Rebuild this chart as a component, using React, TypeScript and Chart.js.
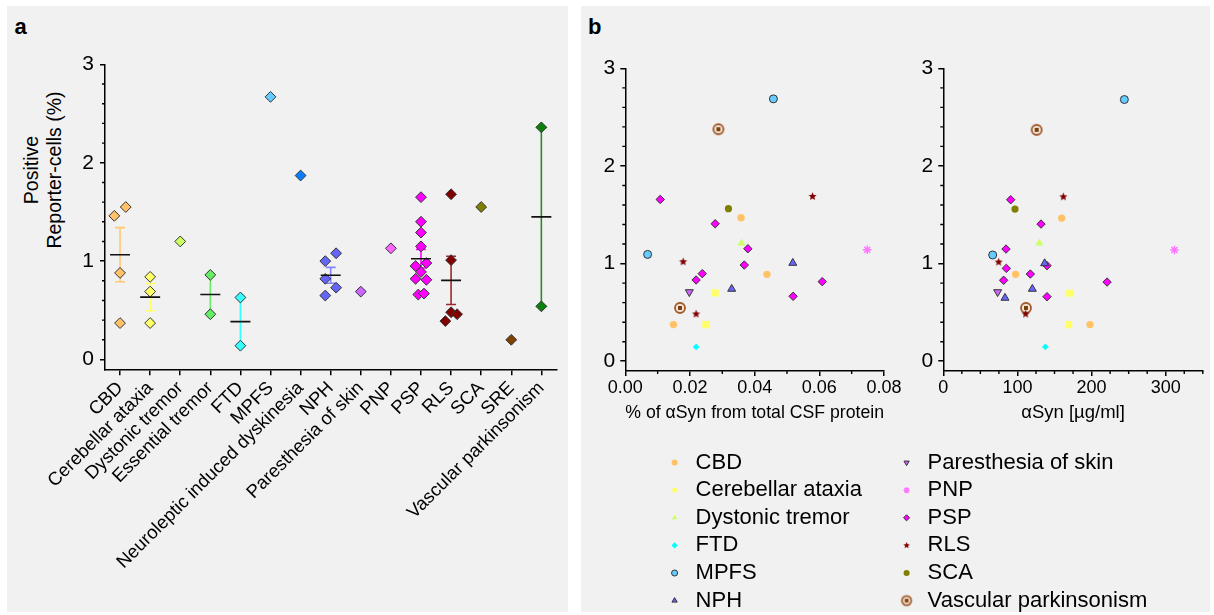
import React, { useEffect, useRef } from 'react';
import { Chart, registerables } from 'chart.js';

Chart.register(...registerables);

const FONT = '"Liberation Sans", Arial, Helvetica, sans-serif';
Chart.defaults.font.family = FONT;
Chart.defaults.color = '#000';

// ---------------- Panel a data ----------------
const categories = [
  'CBD', 'Cerebellar ataxia', 'Dystonic tremor', 'Essential tremor', 'FTD', 'MPFS',
  'Neuroleptic induced dyskinesia', 'NPH', 'Paresthesia of skin', 'PNP', 'PSP', 'RLS',
  'SCA', 'SRE', 'Vascular parkinsonism',
];
// positive reporter-cells (%) per patient, one list per diagnosis
const reporterCells = [
  [1.46, 1.55, 0.88, 0.37],
  [0.84, 0.69, 0.37],
  [1.20],
  [0.86, 0.46],
  [0.63, 0.14],
  [2.67],
  [1.87],
  [1.00, 1.08, 0.82, 0.73, 0.65],
  [0.69],
  [1.13],
  [1.65, 1.40, 1.29, 1.15, 0.95, 0.98, 0.89, 0.82, 0.81, 0.66, 0.67],
  [1.68, 1.01, 0.48, 0.46, 0.39],
  [1.55],
  [0.20],
  [2.36, 0.54],
];
// horizontal jitter (in category units) to separate overlapping points
const jitterOffsets = [
  [-0.19, 0.19, 0, 0],
  [0, 0, 0],
  [0],
  [0, 0],
  [0, 0],
  [0],
  [0],
  [-0.18, 0.18, -0.18, 0.18, -0.18],
  [0],
  [0],
  [0, 0, 0, 0, -0.18, 0.18, 0, -0.18, 0.18, -0.09, 0.1],
  [0, 0, 0, 0.2, -0.19],
  [0],
  [0],
  [0, 0],
];
const yTicks = [0, 1, 2, 3];

// ---------------- Panel b data ----------------
const groupNames = [
  'CBD', 'Cerebellar ataxia', 'Dystonic tremor', 'FTD', 'MPFS', 'NPH',
  'Paresthesia of skin', 'PNP', 'PSP', 'RLS', 'SCA', 'Vascular parkinsonism',
];
// [% of aSyn from total CSF protein, positive reporter-cells %]
const pctCBD = [[0.0358, 1.47], [0.0438, 0.89], [0.0149, 0.375]];
const pctCerebellar = [[0.0278, 0.70], [0.0249, 0.375]];
const pctDystonic = [[0.0359, 1.21]];
const pctFTD = [[0.0219, 0.147]];
const pctMPFS = [[0.0458, 2.687], [0.0069, 1.094]];
const pctNPH = [[0.0518, 1.006], [0.0329, 0.74]];
const pctParesthesia = [[0.0198, 0.709]];
const pctPNP = [[0.0748, 1.142]];
const pctPSP = [[0.0108, 1.657], [0.0278, 1.408], [0.0379, 1.152], [0.0368, 0.985], [0.0238, 0.897], [0.0219, 0.832], [0.0519, 0.665], [0.0609, 0.815]];
const pctRLS = [[0.0579, 1.688], [0.0179, 1.019], [0.0219, 0.484]];
const pctSCA = [[0.0319, 1.562]];
const pctVascular = [[0.0288, 2.376], [0.0169, 0.546]];

// [aSyn µg/ml, positive reporter-cells %]
const concCBD = [[159.7, 1.466], [97.6, 0.89], [197.9, 0.375]];
const concCerebellar = [[170.5, 0.696], [169.1, 0.375]];
const concDystonic = [[129.5, 1.21]];
const concFTD = [[137.6, 0.147]];
const concMPFS = [[244.2, 2.68], [66.6, 1.088]];
const concNPH = [[136.7, 1.002], [120.1, 0.74], [83.2, 0.648]];
const concParesthesia = [[73.3, 0.709]];
const concPNP = [[311.7, 1.139]];
const concPSP = [[90.9, 1.654], [131.8, 1.405], [84.6, 1.149], [85.0, 0.951], [81.4, 0.829], [117.4, 0.893], [139.9, 0.979], [139.9, 0.661], [220.9, 0.811]];
const concRLS = [[161.9, 1.684], [74.7, 1.016], [111.1, 0.484]];
const concSCA = [[96.7, 1.558]];
const concVascular = [[125.9, 2.37], [111.5, 0.546]];

const pctSeries = [pctCBD, pctCerebellar, pctDystonic, pctFTD, pctMPFS, pctNPH, pctParesthesia, pctPNP, pctPSP, pctRLS, pctSCA, pctVascular];
const concSeries = [concCBD, concCerebellar, concDystonic, concFTD, concMPFS, concNPH, concParesthesia, concPNP, concPSP, concRLS, concSCA, concVascular];

const pctTicks = [0, 0.02, 0.04, 0.06, 0.08];
const concTicks = [0, 100, 200, 300];

// ---------------- Styles ----------------
const catColors = ['#FFC266', '#FFFF66', '#CCFF66', '#66EE66', '#33FFFF', '#66CCFF', '#0A7CFF', '#6464F5', '#CC66FF', '#FF66FF', '#FF00FF', '#800000', '#808000', '#804000', '#0B800B'];
const errColors = ['#FFC870', '#FFFF66', '#CCFF66', '#66EE66', '#33FFFF', '#66CCFF', '#0A7CFF', '#8585FF', '#CC66FF', '#FF66FF', '#FF00FF', '#A02828', '#808000', '#804000', '#2A8A2A'];

const groupStyles: any[] = [
  { style: 'circle', r: 3.7, fill: '#FFC266', stroke: '#FFC266', bw: 0 },
  { style: 'rect', r: 5, fill: '#FFFF66', stroke: '#FFFF66', bw: 0 },
  { style: 'triangle', r: 4.6, fill: '#CCFF66', stroke: '#CCFF66', bw: 0 },
  { style: 'rectRot', r: 3.3, fill: '#00FFFF', stroke: '#00FFFF', bw: 0 },
  { style: 'circle', r: 4, fill: '#66CCFF', stroke: '#333333', bw: 1 },
  { style: 'triangle', r: 4.6, fill: '#6666FF', stroke: '#333333', bw: 1 },
  { style: 'triangle', r: 4.6, fill: '#CC66FF', stroke: '#333333', bw: 1, rot: 180 },
  { style: 'star', r: 4.3, fill: '#FF77FF', stroke: '#FF77FF', bw: 1.5 },
  { style: 'rectRot', r: 4.2, fill: '#FF00FF', stroke: '#333333', bw: 1 },
  { style: 'star5', r: 4, fill: '#800000', stroke: '#800000', bw: 0 },
  { style: 'circle', r: 3.6, fill: '#808000', stroke: '#808000', bw: 0 },
  { style: 'ring', r: 4.5, fill: '#A0582A', stroke: '#A0582A', bw: 0 },
];

function starCanvas(outer: number, color: string) {
  const s = Math.ceil(outer * 2 + 2);
  const c = document.createElement('canvas');
  c.width = s; c.height = s;
  const g = c.getContext('2d')!;
  g.fillStyle = color;
  g.beginPath();
  for (let k = 0; k < 10; k++) {
    const rr = k % 2 === 0 ? outer : outer * 0.45;
    const a = -Math.PI / 2 + (k * Math.PI) / 5;
    const px = s / 2 + rr * Math.cos(a);
    const py = s / 2 + rr * Math.sin(a);
    if (k === 0) g.moveTo(px, py); else g.lineTo(px, py);
  }
  g.closePath();
  g.fill();
  return c;
}

function ringCanvas(r: number) {
  const s = Math.ceil(r * 2 + 4);
  const c = document.createElement('canvas');
  c.width = s; c.height = s;
  const g = c.getContext('2d')!;
  g.beginPath();
  g.arc(s / 2, s / 2, r, 0, Math.PI * 2);
  g.fillStyle = '#F4E8DA';
  g.fill();
  g.lineWidth = 1.8;
  g.strokeStyle = '#A0582A';
  g.stroke();
  const q = r * 0.8;
  g.fillStyle = '#7B3F10';
  g.fillRect(s / 2 - q / 2, s / 2 - q / 2, q, q);
  return c;
}

function fixedAxis(size: number, horizontal: boolean) {
  return (scale: any) => {
    if (horizontal) scale.height = size; else scale.width = size;
    scale.paddingLeft = 0; scale.paddingRight = 0; scale.paddingTop = 0; scale.paddingBottom = 0;
  };
}

function minorTicks(lists: Record<string, number[]>, len = 3) {
  return {
    id: 'minorTicks',
    afterDraw(chart: any) {
      const ctx = chart.ctx;
      ctx.save();
      ctx.strokeStyle = '#000';
      ctx.lineWidth = 1.4;
      Object.keys(lists).forEach((id) => {
        const scale = chart.scales[id];
        if (!scale) return;
        ctx.beginPath();
        lists[id].forEach((v) => {
          const p = scale.getPixelForValue(v);
          if (scale.isHorizontal()) { ctx.moveTo(p, scale.top); ctx.lineTo(p, scale.top + len); }
          else { ctx.moveTo(scale.right - len, p); ctx.lineTo(scale.right, p); }
        });
        ctx.stroke();
      });
      ctx.restore();
    },
  };
}

function range(a: number, b: number, step: number, skip: number) {
  const out: number[] = [];
  for (let k = 0; a + k * step <= b + 1e-9; k++) {
    const v = +(a + k * step).toFixed(6);
    if (Math.abs(v / skip - Math.round(v / skip)) > 1e-6) out.push(v);
  }
  return out;
}

const axisGrid = { drawOnChartArea: false, tickLength: 5, color: '#000', lineWidth: 1.5 };
const axisBorder = { display: true, color: '#000', width: 1.5 };

function yAxis(width: number, pad: number) {
  return {
    type: 'linear', min: -0.1, max: 3,
    afterBuildTicks: (s: any) => { s.ticks = yTicks.map((v) => ({ value: v })); },
    afterFit: fixedAxis(width, false),
    grid: axisGrid, border: axisBorder,
    ticks: { font: { size: 21 }, color: '#000', padding: pad, callback: (v: any) => String(v) },
  };
}

function buildPanelA(canvas: HTMLCanvasElement) {
  const datasets: any[] = [];
  reporterCells.forEach((vals, i) => {
    datasets.push({
      type: 'scatter',
      data: vals.map((v, j) => ({ x: i + jitterOffsets[i][j], y: v })),
      pointStyle: 'rectRot', pointRadius: 5.4,
      backgroundColor: catColors[i], borderColor: '#333333', borderWidth: 1, order: 1,
    });
    if (vals.length > 1) {
      const n = vals.length;
      const m = vals.reduce((a, b) => a + b, 0) / n;
      const sd = Math.sqrt(vals.reduce((a, b) => a + (b - m) * (b - m), 0) / (n - 1));
      const se = sd / Math.sqrt(n);
      datasets.push({
        type: 'line', data: [{ x: i, y: m - se }, { x: i, y: m + se }],
        borderColor: errColors[i], borderWidth: 1.6, showLine: true, fill: false,
        pointStyle: 'line', pointRadius: 5, pointBorderColor: errColors[i], pointBorderWidth: 1.6,
        pointBackgroundColor: errColors[i], order: 2,
      });
      datasets.push({
        type: 'scatter', data: [{ x: i, y: m }],
        pointStyle: 'line', pointRadius: 10, borderColor: '#111111', borderWidth: 1.6, order: 0,
      });
    }
  });
  return new Chart(canvas, {
    type: 'scatter',
    data: { datasets },
    options: {
      responsive: false, animation: false, devicePixelRatio: 1, events: [],
      layout: { padding: { left: 0, right: 6.4, top: 58.4, bottom: 0 } },
      plugins: { legend: { display: false }, tooltip: { enabled: false } },
      scales: {
        x: {
          type: 'linear', min: -0.5, max: categories.length - 0.5,
          afterBuildTicks: (s: any) => { s.ticks = categories.map((_, i) => ({ value: i })); },
          afterFit: fixedAxis(242.7, true),
          grid: { ...axisGrid, tickLength: 6 }, border: axisBorder,
          ticks: {
            font: { size: 18.5 }, color: '#000', padding: 2, autoSkip: false,
            minRotation: 45, maxRotation: 45,
            callback: (v: any) => categories[Math.round(v)] ?? '',
          },
        },
        y: yAxis(98, 6),
      },
    } as any,
    plugins: [minorTicks({ y: range(0, 3, 0.2, 1) })],
  } as any);
}

function buildPanelB(canvas: HTMLCanvasElement, series: number[][][], styles: any[], xTicks: number[], xMax: number,
  xTitle: string, xMinor: number[], fmt: (v: number) => string, yW: number, padRight: number) {
  const datasets = series.map((pts, k) => ({
    label: groupNames[k],
    data: pts.map(([x, y]) => ({ x, y })),
    pointStyle: styles[k].pointStyle, pointRadius: styles[k].r,
    pointRotation: styles[k].rot || 0,
    backgroundColor: styles[k].fill, borderColor: styles[k].stroke, borderWidth: styles[k].bw,
  }));
  return new Chart(canvas, {
    type: 'scatter',
    data: { datasets },
    options: {
      responsive: false, animation: false, devicePixelRatio: 1, events: [],
      layout: { padding: { left: 0, right: padRight, top: 62.3, bottom: 0 } },
      plugins: { legend: { display: false }, tooltip: { enabled: false } },
      scales: {
        x: {
          type: 'linear', min: 0, max: xMax,
          afterBuildTicks: (s: any) => { s.ticks = xTicks.map((v) => ({ value: v })); },
          afterFit: fixedAxis(53, true),
          grid: axisGrid, border: axisBorder,
          ticks: { font: { size: 18 }, color: '#000', padding: 1, maxRotation: 0, autoSkip: false, callback: (v: any) => fmt(Number(v)) },
          title: { display: true, text: xTitle, font: { size: 18.5 }, color: '#000', padding: 0 },
        },
        y: yAxis(yW, 5),
      },
    } as any,
    plugins: [minorTicks({ x: xMinor, y: range(0, 3, 0.2, 1) })],
  } as any);
}

function buildLegend(canvas: HTMLCanvasElement, items: any[]) {
  return new Chart(canvas, {
    type: 'scatter',
    data: { datasets: [] },
    options: {
      responsive: false, animation: false, devicePixelRatio: 1, events: [],
      layout: { padding: 0 },
      scales: { x: { display: false }, y: { display: false } },
      plugins: {
        tooltip: { enabled: false },
        legend: {
          display: true, position: 'left', align: 'start',
          labels: {
            usePointStyle: true, boxWidth: 20, boxHeight: 4.3, padding: 5.6,
            font: { size: 22, family: FONT }, color: '#000',
            generateLabels: () => items,
          },
        },
      },
    } as any,
  } as any);
}

export default function App() {
  const aRef = useRef<HTMLCanvasElement>(null);
  const b1Ref = useRef<HTMLCanvasElement>(null);
  const b2Ref = useRef<HTMLCanvasElement>(null);
  const l1Ref = useRef<HTMLCanvasElement>(null);
  const l2Ref = useRef<HTMLCanvasElement>(null);

  useEffect(() => {
    const star = starCanvas(4.3, '#800000');
    const ring = ringCanvas(5);
    const starSmall = starCanvas(3.4, '#800000');
    const ringSmall = ringCanvas(4.6);
    const styles = groupStyles.map((g) => ({
      ...g,
      pointStyle: g.style === 'star5' ? star : g.style === 'ring' ? ring : g.style,
    }));
    const legendItems = groupStyles.map((g, k) => ({
      text: groupNames[k],
      fillStyle: g.fill,
      strokeStyle: g.stroke,
      lineWidth: g.bw,
      pointStyle: g.style === 'star5' ? starSmall : g.style === 'ring' ? ringSmall : g.style,
      rotation: g.rot || 0,
      hidden: false,
      fontColor: '#000',
      datasetIndex: k,
    }));
    const charts = [
      buildPanelA(aRef.current!),
      buildPanelB(b1Ref.current!, pctSeries, styles, pctTicks, 0.08, '% of αSyn from total CSF protein',
        range(0, 0.08, 0.01, 0.02), (v) => v.toFixed(2), 44.3, 17),
      buildPanelB(b2Ref.current!, concSeries, styles, concTicks, 350, 'αSyn [µg/ml]',
        range(0, 350, 25, 100), (v) => String(Math.round(v)), 42.3, 11.2),
      buildLegend(l1Ref.current!, legendItems.slice(0, 6)),
      buildLegend(l2Ref.current!, legendItems.slice(6)),
    ];
    return () => charts.forEach((c) => c.destroy());
  }, []);

  const abs = (left: number, top: number, extra: any = {}) => ({ position: 'absolute' as const, left, top, ...extra });

  return (
    <div style={{ position: 'fixed', left: 0, top: 0, width: 1214, height: 615, overflow: 'hidden', background: '#fff', fontFamily: FONT, color: '#000' }}>
      <div style={abs(7, 6, { width: 561, height: 606, background: '#F1F1F1' })} />
      <div style={abs(581, 6, { width: 629, height: 606, background: '#F1F1F1' })} />
      <div style={abs(14.5, 16, { fontSize: 22, fontWeight: 'bold', lineHeight: '22px' })}>a</div>
      <div style={abs(588, 16, { fontSize: 22, fontWeight: 'bold', lineHeight: '22px' })}>b</div>
      <div style={abs(42.5, 170, { transform: 'translate(-50%, -50%) rotate(-90deg)', fontSize: 19.5, lineHeight: '23px', textAlign: 'center', whiteSpace: 'nowrap' })}>
        Positive<br />Reporter-cells (%)
      </div>
      <canvas ref={aRef} width={561} height={606} style={abs(7, 6, { display: 'block' })} />
      <canvas ref={b1Ref} width={320} height={418} style={abs(581, 6, { display: 'block' })} />
      <canvas ref={b2Ref} width={313} height={418} style={abs(901, 6, { display: 'block' })} />
      <canvas ref={l1Ref} width={1200} height={190} style={abs(659.4, 446.4, { display: 'block' })} />
      <canvas ref={l2Ref} width={1200} height={190} style={abs(891.4, 446.4, { display: 'block' })} />
    </div>
  );
}
